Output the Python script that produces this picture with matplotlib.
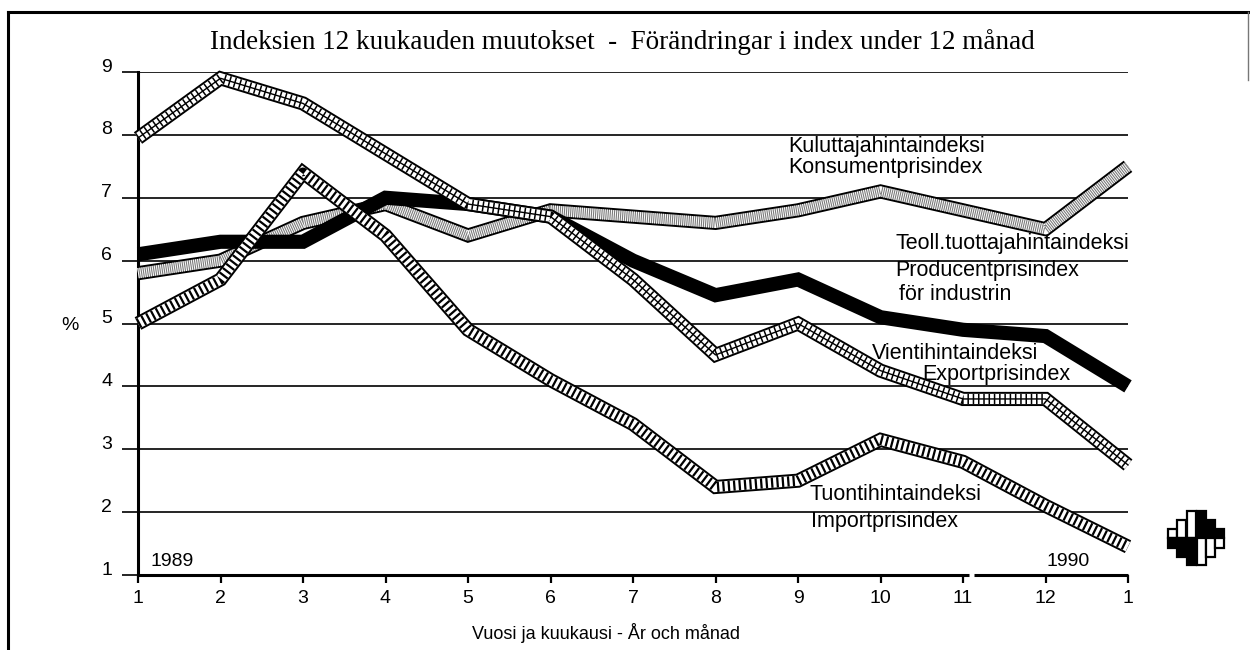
import numpy as np
import matplotlib
matplotlib.use('Agg')
import matplotlib.pyplot as plt
from matplotlib.patches import Rectangle
from matplotlib.lines import Line2D
from matplotlib.transforms import ScaledTranslation

plt.rcParams['font.family'] = ['Liberation Sans', 'DejaVu Sans']
plt.rcParams['lines.scale_dashes'] = False

# months Jan 1989 .. Jan 1990
months = list(range(1, 14))
month_labels = ['1', '2', '3', '4', '5', '6', '7', '8', '9', '10', '11', '12', '1']
y_ticks = [1, 2, 3, 4, 5, 6, 7, 8, 9]

# 12-month change in %
kuluttaja = [5.8, 6.0, 6.6, 6.9, 6.4, 6.8, 6.7, 6.6, 6.8, 7.1, 6.8, 6.5, 7.5]   # consumer prices
teoll = [6.1, 6.3, 6.3, 7.0, 6.9, 6.7, 6.0, 5.45, 5.7, 5.1, 4.9, 4.8, 4.0]      # producer prices
vienti = [7.95, 8.9, 8.5, 7.7, 6.9, 6.7, 5.7, 4.5, 5.0, 4.25, 3.8, 3.8, 2.75]   # export prices
tuonti = [5.0, 5.7, 7.4, 6.4, 4.9, 4.1, 3.4, 2.4, 2.5, 3.15, 2.8, 2.1, 1.45]    # import prices

W, H = 1250, 650


def px(x, y):
    return x / W, 1 - y / H


fig = plt.figure(figsize=(12.5, 6.5), dpi=100)
fig.patch.set_facecolor('white')

# frame
fig.add_artist(Line2D([8 / W, 1.0], [1 - 12 / H] * 2, color='black', lw=2.2))
fig.add_artist(Line2D([8 / W] * 2, [0, 1 - 12 / H], color='black', lw=2.2))
fig.add_artist(Line2D([1248 / W] * 2, [1 - 80 / H, 1 - 12 / H], color='#777777', lw=1.0))

ax = fig.add_axes([138 / W, 1 - 575 / H, (1128 - 138) / W, (575 - 72) / H])
ax.set_xlim(1, 13)
ax.set_ylim(1, 9)
for s in ['top', 'right', 'bottom']:
    ax.spines[s].set_visible(False)
ax.spines['left'].set_linewidth(2.2)
ax.spines['left'].set_zorder(1)

# gridlines and broken bottom axis
ax.hlines(y_ticks[1:], 1, 13, color='black', lw=1.2, zorder=0.5)
ax.plot([1, 11.07], [1, 1], color='black', lw=2.2, clip_on=False, solid_capstyle='butt', zorder=1)
ax.plot([11.13, 13], [1, 1], color='black', lw=2.2, clip_on=False, solid_capstyle='butt', zorder=1)

ax.set_yticks(y_ticks)
ax.set_yticklabels([str(v) for v in y_ticks])
ax.set_xticks(months)
ax.set_xticklabels(month_labels)
ax.tick_params(axis='y', direction='out', length=11.5, width=1.2, pad=7, labelsize=14)
ax.tick_params(axis='x', direction='out', length=6, width=1.6, pad=5, labelsize=14)
for lab in ax.get_yticklabels():
    lab.set_transform(lab.get_transform() + ScaledTranslation(0, 5 / 72, fig.dpi_scale_trans))

OUT = 10.2
INN = 7.4


def ribbon(y, z, inner='white'):
    ax.plot(months, y, color='black', lw=OUT, solid_joinstyle='miter',
            solid_capstyle='butt', clip_on=False, zorder=z)
    ax.plot(months, y, color=inner, lw=INN, solid_joinstyle='miter',
            solid_capstyle='butt', clip_on=False, zorder=z + 0.1)


# consumer prices: stippled band
ribbon(kuluttaja, 3, inner='#7a7a7a')
ax.plot(months, kuluttaja, color='white', lw=INN, dashes=(0.7, 0.8),
        clip_on=False, zorder=3.2)

# producer prices: solid black
ax.plot(months, teoll, color='black', lw=10.2, solid_joinstyle='miter',
        solid_capstyle='butt', clip_on=False, zorder=4)

# export prices: cross hatched band
ribbon(vienti, 5)
ax.plot(months, vienti, color='black', lw=INN, dashes=(1.1, 2.7),
        clip_on=False, zorder=5.2)
ax.plot(months, vienti, color='black', lw=1.0, clip_on=False, zorder=5.3)

# import prices: striped band
ribbon(tuonti, 6)
ax.plot(months, tuonti, color='black', lw=INN, dashes=(1.6, 2.3),
        clip_on=False, zorder=6.2)

# texts
fig.text(*px(622, 42), 'Indeksien 12 kuukauden muutokset  -  Förändringar i index under 12 månad',
         family=['Liberation Serif', 'DejaVu Serif'], fontsize=19.5, ha='center', va='center')
fig.text(*px(70, 325), '%', fontsize=14, ha='center', va='center')
fig.text(*px(151, 562), '1989', fontsize=14, ha='left', va='center')
fig.text(*px(1046, 561), '1990', fontsize=14, ha='left', va='center')
fig.text(*px(606, 633), 'Vuosi ja kuukausi - År och månad', fontsize=13, ha='center', va='center')

lbl = dict(fontsize=15.5, ha='left', va='center')
fig.text(*px(788, 146), 'Kuluttajahintaindeksi', **lbl)
fig.text(*px(788, 167), 'Konsumentprisindex', **lbl)
fig.text(*px(895, 243), 'Teoll.tuottajahintaindeksi', **lbl)
fig.text(*px(895, 270), 'Producentprisindex', **lbl)
fig.text(*px(899, 295), 'för industrin', **lbl)
fig.text(*px(872, 353), 'Vientihintaindeksi', **lbl)
fig.text(*px(922, 375), 'Exportprisindex', **lbl)
fig.text(*px(809, 495), 'Tuontihintaindeksi', **lbl)
fig.text(*px(811, 522), 'Importprisindex', **lbl)

# logo
cols = [(1168, 9.5, 'w', 'k'), (1177, 18.5, 'w', 'k'), (1187, 27, 'w', 'k'),
        (1197, 27, 'k', 'w'), (1206, 18.5, 'k', 'w'), (1215, 9.5, 'k', 'w')]
mid = 538
for x0, h, top, bot in cols:
    for y0, c in [(mid - h, top), (mid, bot)]:
        fx, fy = px(x0, y0 + h)
        fig.add_artist(Rectangle((fx, fy), 9.3 / W, h / H, facecolor=c,
                                 edgecolor='black', lw=1.6, transform=fig.transFigure))

fig.savefig('out.png', dpi=100, facecolor='white')
